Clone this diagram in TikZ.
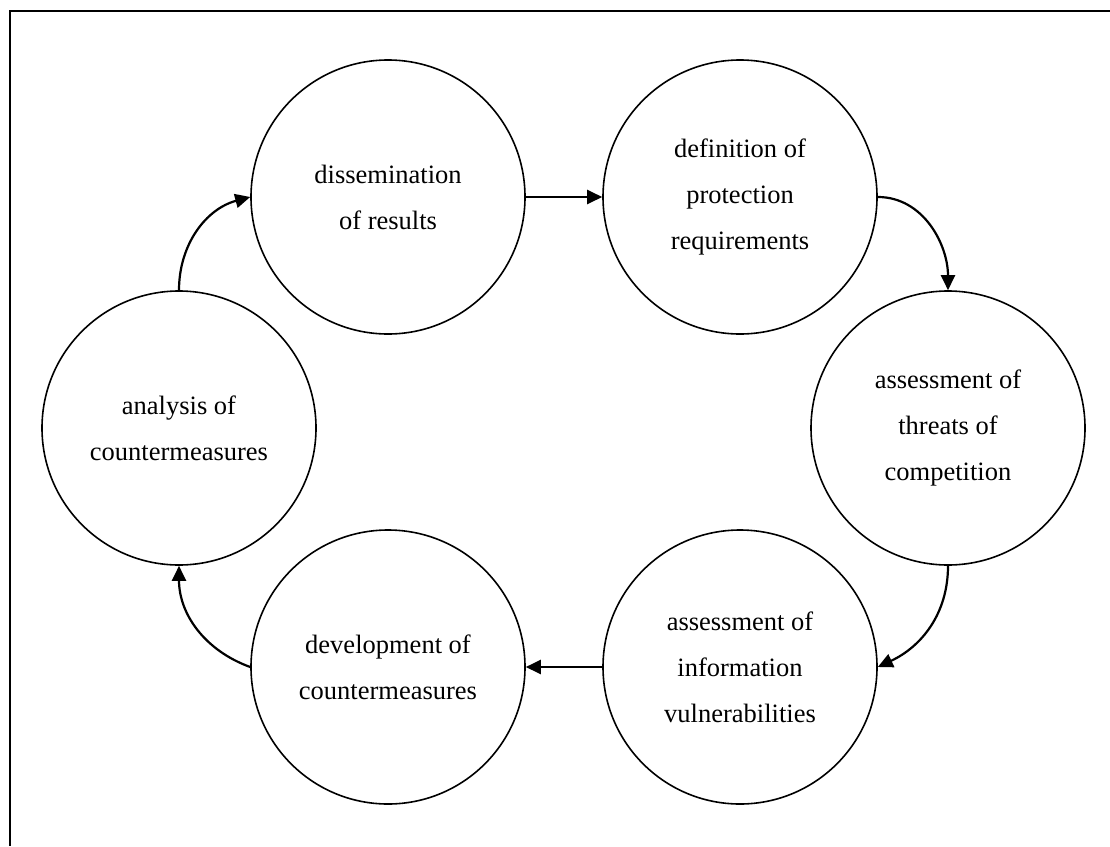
\documentclass[tikz,border=0pt]{standalone}
\usepackage{fontspec}
\setmainfont{Liberation Serif}
\usetikzlibrary{arrows.meta}
\begin{document}
\begin{tikzpicture}[x=1pt,y=-1pt,
  stage/.style={circle, draw, line width=1.6pt, minimum size=274pt, inner sep=0pt,
    align=center, font=\fontsize{26.5}{46}\selectfont},
  flow/.style={line width=2.2pt, -{Triangle[length=15pt,width=14pt]}}]
\useasboundingbox (0,0) rectangle (1110,846);
% frame
\draw[line width=2pt] (1110,11) -- (10,11) -- (10,846);
% stages of the cycle
\node[stage] (A) at (388,197) {dissemination\\of results};
\node[stage] (B) at (740,197) {definition of\\protection\\requirements};
\node[stage] (C) at (948,428) {assessment of\\threats of\\competition};
\node[stage] (D) at (740,667) {assessment of\\information\\vulnerabilities};
\node[stage] (E) at (388,667) {development of\\countermeasures};
\node[stage] (F) at (179,428) {analysis of\\countermeasures};
% connectors
\draw[flow] (A.east) -- (B.west);
\draw[flow] (B.east) to[out=0,in=90] (C.north);
\draw[flow] (C.south) to[out=-90,in=25] (D.east);
\draw[flow] (D.west) -- (E.east);
\draw[flow] (E.west) to[out=160,in=-90] (F.south);
\draw[flow] (F.north) to[out=90,in=195] (A.west);
\end{tikzpicture}
\end{document}
